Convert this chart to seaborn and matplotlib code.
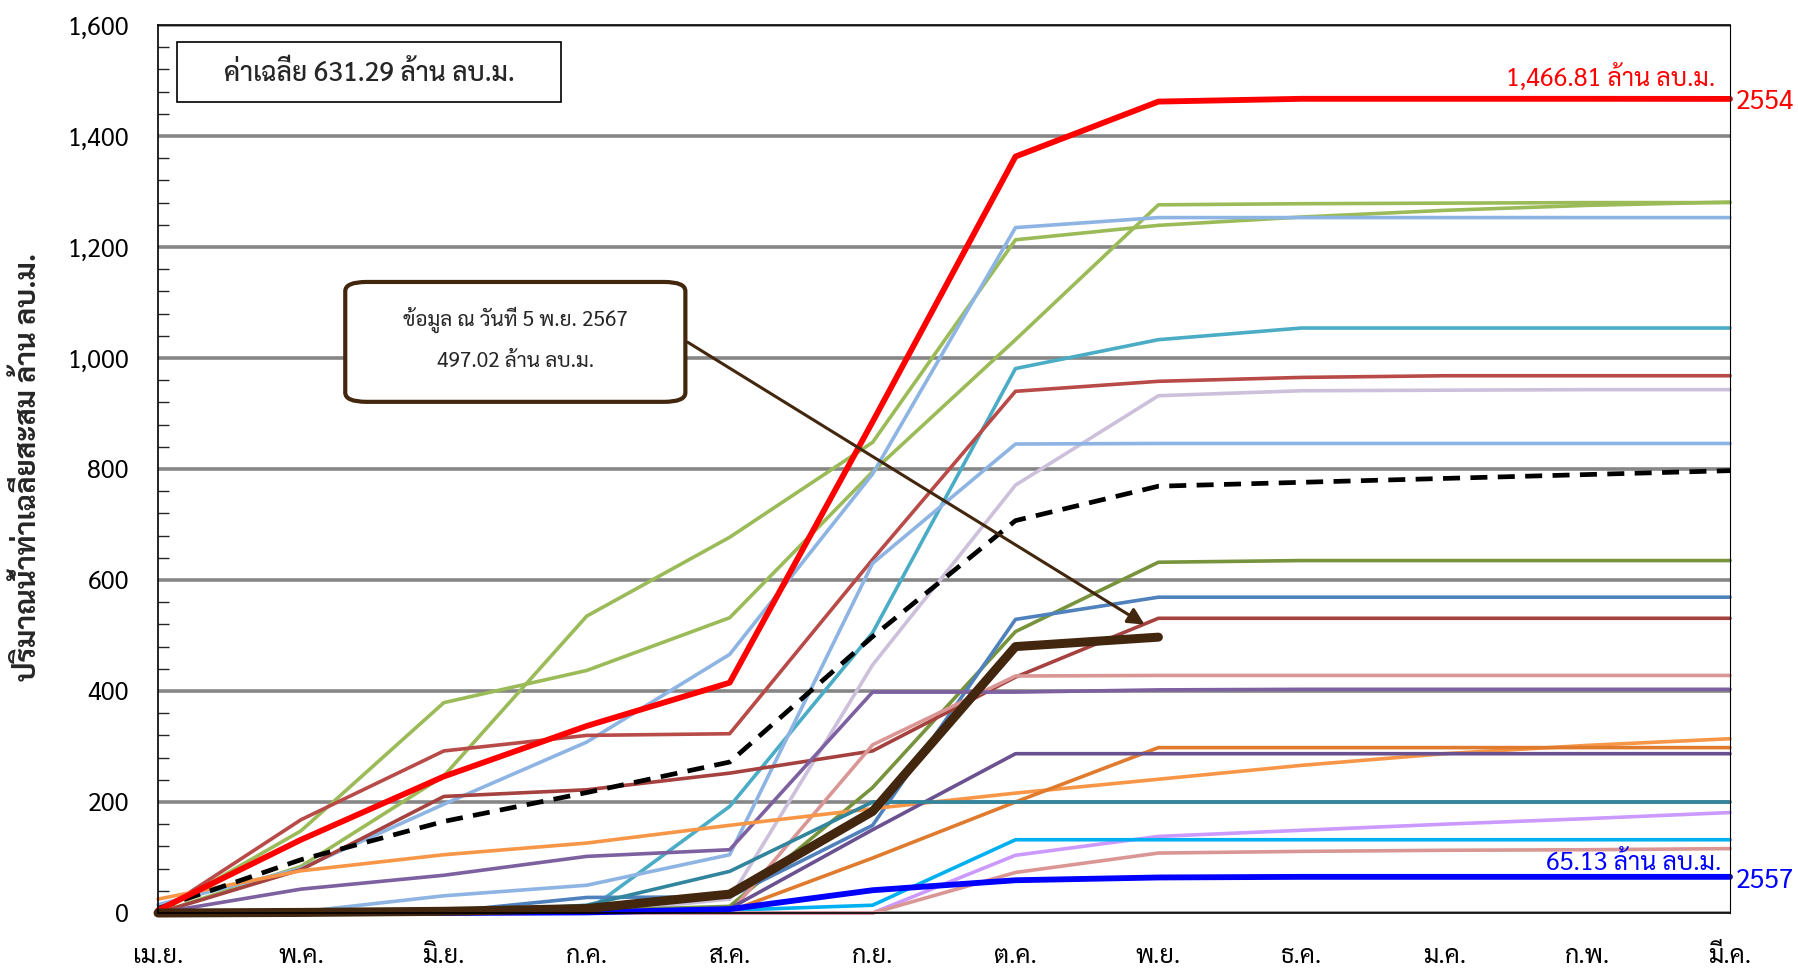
import matplotlib
matplotlib.use("Agg")
import matplotlib.pyplot as plt
from matplotlib.ticker import MultipleLocator, FuncFormatter
from matplotlib.patches import FancyBboxPatch, Rectangle
import seaborn as sns

months = ["เม.ย.", "พ.ค.", "มิ.ย.", "ก.ค.", "ส.ค.", "ก.ย.", "ต.ค.", "พ.ย.", "ธ.ค.", "ม.ค.", "ก.พ.", "มี.ค."]

# ปริมาณน้ำท่าสะสมรายปี (ล้าน ลบ.ม.) อ่านจากกราฟ
y_g1 = [0, 148, 379, 437, 532, 795, 1033, 1276, 1278, 1279, 1280, 1280]
y_g2 = [0, 84, 247, 535, 677, 848, 1213, 1239, 1254, 1266, 1275, 1281]
y_lb1 = [15, 80, 196, 308, 466, 791, 1235, 1253, 1253, 1253, 1253, 1253]
y_teal1 = [0, 0, 0, 3, 192, 505, 981, 1033, 1054, 1054, 1054, 1054]
y_dr1 = [0, 168, 292, 320, 323, 637, 940, 958, 965, 968, 968, 968]
y_lav = [0, 0, 0, 0, 25, 447, 771, 932, 941, 942, 943, 943]
y_lb2 = [0, 2, 31, 50, 105, 630, 845, 846, 846, 846, 846, 846]
y_olive = [0, 0, 0, 4, 12, 226, 507, 632, 635, 635, 635, 635]
y_steel = [0, 0, 2, 28, 29, 158, 529, 569, 569, 569, 569, 569]
y_dr2 = [0, 78, 210, 222, 252, 292, 425, 531, 531, 531, 531, 531]
y_pink1 = [0, 0, 0, 0, 0, 303, 427, 428, 428, 428, 428, 428]
y_purple1 = [0, 43, 68, 102, 114, 398, 398, 402, 403, 403, 403, 403]
y_orange = [25, 76, 105, 126, 158, 188, 216, 241, 266, 287, 302, 314]
y_dorange = [0, 0, 0, 0, 3, 99, 200, 298, 298, 298, 298, 298]
y_purple2 = [0, 0, 0, 0, 8, 150, 287, 287, 287, 287, 287, 287]
y_teal2 = [0, 0, 0, 14, 75, 200, 200, 200, 200, 200, 200, 200]
y_lpurple = [0, 0, 0, 0, 0, 0, 104, 138, 149, 160, 170, 181]
y_cyan = [0, 0, 0, 0, 5, 14, 132, 132, 132, 132, 132, 132]
y_pink2 = [0, 0, 0, 0, 0, 0, 73, 108, 111, 113, 114, 116]
y_avg = [8, 96, 165, 217, 272, 498, 707, 769, 776, 783, 790, 797]
y_2554 = [5, 132, 246, 337, 415, 885, 1363, 1462, 1467, 1467, 1467, 1466.81]
y_2557 = [0, 0, 0, 1, 7, 41, 59, 64, 65.13, 65.13, 65.13, 65.13]
y_2567 = [0, 1, 3, 8, 34, 183, 480, 497.02]

thin = [
    (y_g1, "#9BBB59"), (y_g2, "#9BBB59"), (y_lb1, "#8DB4E2"), (y_teal1, "#4BACC6"),
    (y_dr1, "#B84A48"), (y_lav, "#CCC0DA"), (y_lb2, "#8DB4E2"), (y_olive, "#77933C"),
    (y_steel, "#4F81BD"), (y_dr2, "#A5423F"), (y_pink1, "#DA9694"), (y_purple1, "#7D60A0"),
    (y_orange, "#F79646"), (y_dorange, "#E07B2E"), (y_purple2, "#6A5190"), (y_teal2, "#31859C"),
    (y_lpurple, "#CC99FF"), (y_cyan, "#00B0F0"), (y_pink2, "#DA9694"),
]

sns.set_style("white")
plt.rcParams["font.family"] = ["Sarabun", "DejaVu Sans"]

fig = plt.figure(figsize=(17.98, 9.69), dpi=100)
ax = fig.add_axes([0.0879, 0.0578, 0.8743, 0.9164])

for vals, col in thin:
    sns.lineplot(x=list(range(len(vals))), y=vals, color=col, lw=2.6, ax=ax, clip_on=False)
sns.lineplot(x=list(range(12)), y=y_avg, color="black", lw=3.4, ax=ax, clip_on=False,
             linestyle=(0, (3.6, 2.2)))
sns.lineplot(x=list(range(12)), y=y_2554, color="#FF0000", lw=4.2, ax=ax, clip_on=False)
sns.lineplot(x=list(range(12)), y=y_2557, color="#0000FF", lw=4.2, ax=ax, clip_on=False)
sns.lineplot(x=list(range(8)), y=y_2567, color="#42260E", lw=6.5, ax=ax, clip_on=False,
             solid_capstyle="round")

ax.set_xlim(0, 11)
ax.set_ylim(0, 1600)
ax.set_xticks(range(12))
ax.set_xticklabels(months)
ax.yaxis.set_major_locator(MultipleLocator(200))
ax.yaxis.set_minor_locator(MultipleLocator(40))
ax.yaxis.set_major_formatter(FuncFormatter(lambda v, p: f"{int(v):,}"))
ax.yaxis.grid(True, which="major", color="#868686", lw=2.6, zorder=0)
ax.set_axisbelow(True)
for s in ["left", "bottom", "top"]:
    ax.spines[s].set_color("black")
    ax.spines[s].set_linewidth(1.2)
ax.spines["right"].set_color("black")
ax.spines["right"].set_linewidth(0.8)
ax.tick_params(axis="x", which="major", direction="inout", length=16, width=1.2,
               pad=14, labelsize=18, colors="black")
ax.tick_params(axis="y", which="major", direction="inout", length=16, width=1.2,
               pad=13, labelsize=18, colors="black")
ax.tick_params(axis="y", which="minor", direction="in", length=8, width=1, left=True)
ax.set_xlabel("")
ax.set_ylabel("")

fig.text(0.016, 0.518, "ปริมาณน้ำท่าเฉลี่ยสะสม ล้าน ลบ.ม.", rotation=90, ha="center",
         va="center", fontsize=21, fontweight="bold")

ax.add_patch(Rectangle((0.13, 1461), 2.69, 108, fc="white", ec="black", lw=1.2, zorder=5))
ax.text(1.48, 1513, "ค่าเฉลี่ย 631.29 ล้าน ลบ.ม.", ha="center", va="center", fontsize=19,
        fontweight="medium", zorder=6)

box = FancyBboxPatch((1.31, 921), 2.38, 216, boxstyle="round,pad=0,rounding_size=0.15",
                     mutation_aspect=110, fc="white", ec="#42260E", lw=3, zorder=5)
ax.add_patch(box)
ax.text(2.5, 1068, "ข้อมูล ณ วันที่ 5 พ.ย. 2567", ha="center", va="center", fontsize=15, zorder=6)
ax.text(2.5, 993, "497.02 ล้าน ลบ.ม.", ha="center", va="center", fontsize=15, zorder=6)
ax.annotate("", xy=(6.92, 517), xytext=(3.69, 1031),
            arrowprops=dict(arrowstyle="-|>,head_length=1.0,head_width=0.5", color="#42260E", lw=2.2),
            zorder=6)

ax.text(10.9, 1506, "1,466.81 ล้าน ลบ.ม.", ha="right", va="center", fontsize=18, color="#FF0000")
ax.text(11.04, 1461, "2554", ha="left", va="center", fontsize=19, color="#FF0000", clip_on=False)
ax.text(10.94, 89, "65.13 ล้าน ลบ.ม.", ha="right", va="center", fontsize=18, color="#0000FF")
ax.text(11.04, 58, "2557", ha="left", va="center", fontsize=19, color="#0000FF", clip_on=False)

fig.savefig("out.png", dpi=100)
